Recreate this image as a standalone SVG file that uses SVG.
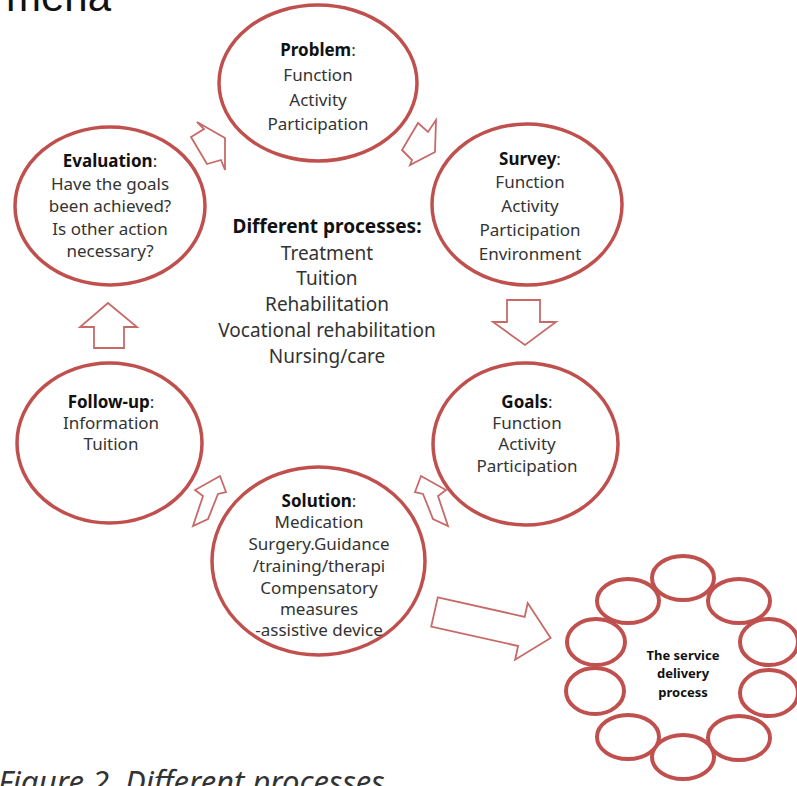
<svg xmlns="http://www.w3.org/2000/svg" width="797" height="786" viewBox="0 0 797 786">
<style>
.node{fill:#fff;stroke:#c0504d;stroke-width:3.5}
.small{fill:#fff;stroke:#c0504d;stroke-width:4}
.arrow{fill:#fff;stroke:#c66a68;stroke-width:1.8;stroke-linejoin:miter}
text{font-family:"Noto Sans","Open Sans","Liberation Sans",sans-serif;fill:#333;text-anchor:middle}
.t{font-size:17px}
.b{font-weight:bold;fill:#111}
.c{font-size:19px}
.s{font-size:13px;font-weight:bold;fill:#111}
</style>
<rect width="797" height="786" fill="#fff"/>
<text x="6" y="11" style="font-family:'Liberation Sans',Arial,sans-serif;font-size:42px;fill:#111;text-anchor:start">mena</text>

<g id="connectors">
<polygon class="arrow" points="197,122 225,138 225,170 221,160 207,164 191,137 204,129"/>
<polygon class="arrow" points="418,123 428,132 436,120 435,152 410,165 412,160 402,150"/>
<polygon class="arrow" points="507,300 540,300 540,322 556,322 525,345 493,322 507,322"/>
<polygon class="arrow" points="421,476 415,492 423,494 433,519 448,526 438,496 446,490"/>
<polygon class="arrow" points="220,476 226,492 218,494 208,519 193,526 203,496 195,490"/>
<polygon class="arrow" points="108,303 137,327 124,327 124,348 94,348 94,327 80,327"/>
<polygon class="arrow" points="437.8,597.4 524.7,616.8 527.7,603.1 550.6,637.9 515.1,659.7 518.1,646 431.2,626.6"/>
</g>

<g id="problem">
<ellipse class="node" cx="318" cy="83" rx="99" ry="78"/>
<text class="t" x="318" y="56"><tspan class="b">Problem</tspan>:</text>
<text class="t" x="318" y="81">Function</text>
<text class="t" x="318" y="106">Activity</text>
<text class="t" x="318" y="130">Participation</text>
</g>

<g id="survey">
<ellipse class="node" cx="527" cy="204.5" rx="95" ry="80.5"/>
<text class="t" x="530" y="165"><tspan class="b">Survey</tspan>:</text>
<text class="t" x="530" y="188">Function</text>
<text class="t" x="530" y="212">Activity</text>
<text class="t" x="530" y="236">Participation</text>
<text class="t" x="530" y="260">Environment</text>
</g>

<g id="goals">
<ellipse class="node" cx="525.5" cy="444" rx="92.5" ry="81"/>
<text class="t" x="527" y="408"><tspan class="b">Goals</tspan>:</text>
<text class="t" x="527" y="429">Function</text>
<text class="t" x="527" y="450">Activity</text>
<text class="t" x="527" y="472">Participation</text>
</g>

<g id="solution">
<ellipse class="node" cx="318.5" cy="561" rx="106.5" ry="94"/>
<text class="t" x="319" y="507"><tspan class="b">Solution</tspan>:</text>
<text class="t" x="319" y="528">Medication</text>
<text class="t" x="319" y="550">Surgery.Guidance</text>
<text class="t" x="319" y="572">/training/therapi</text>
<text class="t" x="319" y="594">Compensatory</text>
<text class="t" x="319" y="615">measures</text>
<text class="t" x="319" y="636">-assistive device</text>
</g>

<g id="follow-up">
<ellipse class="node" cx="109.5" cy="443" rx="92.5" ry="80"/>
<text class="t" x="111" y="408"><tspan class="b">Follow-up</tspan>:</text>
<text class="t" x="111" y="429">Information</text>
<text class="t" x="111" y="450">Tuition</text>
</g>

<g id="evaluation">
<ellipse class="node" cx="110" cy="206" rx="95" ry="79"/>
<text class="t" x="110" y="167"><tspan class="b">Evaluation</tspan>:</text>
<text class="t" x="110" y="190">Have the goals</text>
<text class="t" x="110" y="212">been achieved?</text>
<text class="t" x="110" y="235">Is other action</text>
<text class="t" x="110" y="257">necessary?</text>
</g>

<g id="processes">
<text class="c b" x="327" y="233">Different processes:</text>
<text class="c" x="327" y="260">Treatment</text>
<text class="c" x="327" y="285">Tuition</text>
<text class="c" x="327" y="311">Rehabilitation</text>
<text class="c" x="327" y="337">Vocational rehabilitation</text>
<text class="c" x="327" y="363">Nursing/care</text>
</g>

<g id="service-delivery">
<ellipse class="small" cx="683" cy="578" rx="31" ry="22"/>
<ellipse class="small" cx="739" cy="601" rx="31" ry="22"/>
<ellipse class="small" cx="769" cy="642" rx="29" ry="23"/>
<ellipse class="small" cx="769" cy="693" rx="29" ry="23"/>
<ellipse class="small" cx="739" cy="738" rx="31" ry="22"/>
<ellipse class="small" cx="683" cy="757" rx="31" ry="22"/>
<ellipse class="small" cx="628" cy="737" rx="31" ry="22"/>
<ellipse class="small" cx="595" cy="691" rx="29" ry="23"/>
<ellipse class="small" cx="596" cy="642" rx="29" ry="23"/>
<ellipse class="small" cx="628" cy="601" rx="31" ry="22"/>
<text class="s" x="683" y="660">The service</text>
<text class="s" x="683" y="678">delivery</text>
<text class="s" x="683" y="697">process</text>
</g>

<text x="-2" y="793" style="font-size:31px;font-style:italic;fill:#333;text-anchor:start">Figure 2. Different processes</text>
</svg>
